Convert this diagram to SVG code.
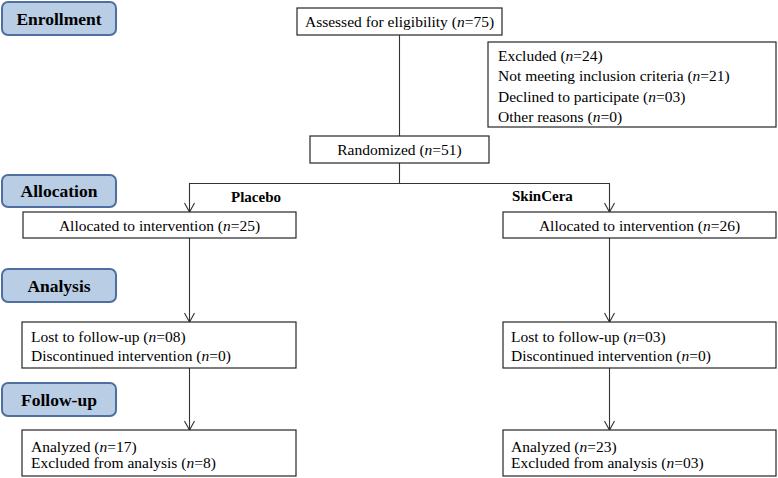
<svg xmlns="http://www.w3.org/2000/svg" width="778" height="478" viewBox="0 0 778 478">
<style>
.lbl rect{fill:#b9cde5;stroke:#4f6fa0;stroke-width:2}
.lbl text{font-family:"Liberation Serif",serif;font-weight:bold;font-size:17.5px;text-anchor:middle;fill:#000}
.box rect{fill:#fff;stroke:#262626;stroke-width:1.2}
.box text{font-family:"Liberation Serif",serif;font-size:15.5px;fill:#000}
.c{text-anchor:middle}
.grp{font-family:"Liberation Serif",serif;font-weight:bold;font-size:15px;fill:#000}
.ln{stroke:#333;stroke-width:1.1;fill:none}
</style>
<defs>
<marker id="ar" viewBox="0 0 12 12" refX="10" refY="6" markerWidth="12" markerHeight="12" markerUnits="userSpaceOnUse" orient="auto">
<path d="M1,1 L10,6 L1,11" fill="none" stroke="#333" stroke-width="1.1"/>
</marker>
</defs>
<g id="label-enrollment" class="lbl"><rect x="2" y="2" width="114" height="33" rx="6"/><text x="59" y="24.5">Enrollment</text></g>
<g id="label-allocation" class="lbl"><rect x="2" y="175" width="114" height="32" rx="6"/><text x="59" y="197">Allocation</text></g>
<g id="label-analysis" class="lbl"><rect x="2" y="269" width="114" height="33" rx="6"/><text x="59" y="291.5">Analysis</text></g>
<g id="label-followup" class="lbl"><rect x="2" y="383" width="114" height="33" rx="6"/><text x="59" y="405.5">Follow-up</text></g>

<g id="connectors">
<line class="ln" x1="399.5" y1="35" x2="399.5" y2="136"/>
<polyline class="ln" points="399.5,163 399.5,183.5 189.5,183.5 189.5,212" marker-end="url(#ar)"/>
<polyline class="ln" points="399.5,183.5 609.5,183.5 609.5,212" marker-end="url(#ar)"/>
<line class="ln" x1="189.5" y1="238" x2="189.5" y2="322" marker-end="url(#ar)"/>
<line class="ln" x1="609.5" y1="238" x2="609.5" y2="322" marker-end="url(#ar)"/>
<line class="ln" x1="189.5" y1="368" x2="189.5" y2="430" marker-end="url(#ar)"/>
<line class="ln" x1="609.5" y1="368" x2="609.5" y2="430" marker-end="url(#ar)"/>
</g>

<g id="assessed" class="box"><rect x="297" y="8" width="205" height="27"/><text class="c" x="399.5" y="27">Assessed for eligibility (<tspan font-style="italic">n</tspan>=75)</text></g>
<g id="excluded" class="box"><rect x="488" y="42" width="288" height="85"/>
<text x="498" y="61">Excluded (<tspan font-style="italic">n</tspan>=24)</text>
<text x="498" y="81">Not meeting inclusion criteria (<tspan font-style="italic">n</tspan>=21)</text>
<text x="498" y="101.5">Declined to participate (<tspan font-style="italic">n</tspan>=03)</text>
<text x="498" y="122">Other reasons (<tspan font-style="italic">n</tspan>=0)</text></g>
<g id="randomized" class="box"><rect x="310" y="136" width="179" height="27"/><text class="c" x="399.5" y="155">Randomized (<tspan font-style="italic">n</tspan>=51)</text></g>

<text id="placebo" class="grp" x="231" y="202">Placebo</text>
<text id="skincera" class="grp" x="512" y="201">SkinCera</text>

<g id="alloc-left" class="box"><rect x="23" y="212" width="273" height="26"/><text class="c" x="159.5" y="231">Allocated to intervention (<tspan font-style="italic">n</tspan>=25)</text></g>
<g id="alloc-right" class="box"><rect x="503" y="212" width="273" height="26"/><text class="c" x="639.5" y="231">Allocated to intervention (<tspan font-style="italic">n</tspan>=26)</text></g>

<g id="lost-left" class="box"><rect x="22" y="322" width="274" height="46"/>
<text x="31" y="342">Lost to follow-up (<tspan font-style="italic">n</tspan>=08)</text>
<text x="31" y="361">Discontinued intervention (<tspan font-style="italic">n</tspan>=0)</text></g>
<g id="lost-right" class="box"><rect x="503" y="322" width="273" height="46"/>
<text x="511" y="342">Lost to follow-up (<tspan font-style="italic">n</tspan>=03)</text>
<text x="511" y="361">Discontinued intervention (<tspan font-style="italic">n</tspan>=0)</text></g>

<g id="analyzed-left" class="box"><rect x="22" y="430" width="274" height="46"/>
<text x="31" y="451.5">Analyzed (<tspan font-style="italic">n</tspan>=17)</text>
<text x="31" y="468">Excluded from analysis (<tspan font-style="italic">n</tspan>=8)</text></g>
<g id="analyzed-right" class="box"><rect x="503" y="430" width="273" height="46"/>
<text x="511" y="451.5">Analyzed (<tspan font-style="italic">n</tspan>=23)</text>
<text x="511" y="468">Excluded from analysis (<tspan font-style="italic">n</tspan>=03)</text></g>
</svg>
